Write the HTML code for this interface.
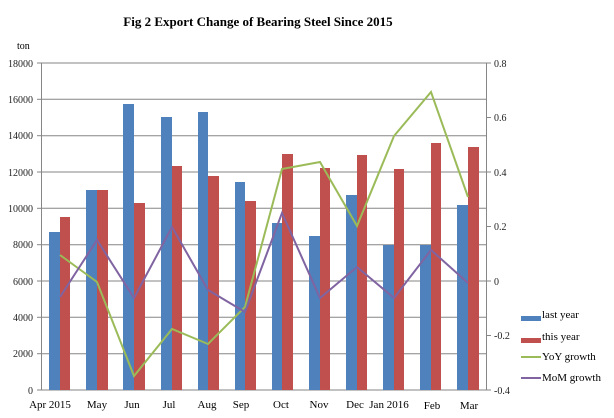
<!DOCTYPE html>
<html><head><style>body{margin:0;background:#fff}svg{display:block}text{font-family:"Liberation Serif",serif}</style></head><body>
<svg width="614" height="418" viewBox="0 0 614 418" xmlns="http://www.w3.org/2000/svg">
<text x="258" y="26" font-size="13" font-weight="bold" text-anchor="middle">Fig 2  Export Change of Bearing Steel Since 2015</text>
<text x="17" y="49" font-size="10" font-family="Liberation Sans,sans-serif">ton</text>
<g stroke="#868686" stroke-width="1">
<line x1="41" y1="63" x2="487" y2="63"/><line x1="41" y1="99.3" x2="487" y2="99.3"/><line x1="41" y1="135.7" x2="487" y2="135.7"/><line x1="41" y1="172" x2="487" y2="172"/><line x1="41" y1="208.3" x2="487" y2="208.3"/><line x1="41" y1="244.7" x2="487" y2="244.7"/><line x1="41" y1="281" x2="487" y2="281"/><line x1="41" y1="317.3" x2="487" y2="317.3"/><line x1="41" y1="353.7" x2="487" y2="353.7"/><line x1="41" y1="390" x2="487" y2="390"/>
<line x1="41.5" y1="63" x2="41.5" y2="390"/><line x1="486.5" y1="63" x2="486.5" y2="390"/>
<line x1="37" y1="63" x2="41" y2="63"/><line x1="37" y1="99.3" x2="41" y2="99.3"/><line x1="37" y1="135.7" x2="41" y2="135.7"/><line x1="37" y1="172" x2="41" y2="172"/><line x1="37" y1="208.3" x2="41" y2="208.3"/><line x1="37" y1="244.7" x2="41" y2="244.7"/><line x1="37" y1="281" x2="41" y2="281"/><line x1="37" y1="317.3" x2="41" y2="317.3"/><line x1="37" y1="353.7" x2="41" y2="353.7"/><line x1="37" y1="390" x2="41" y2="390"/>
<line x1="487" y1="63" x2="491" y2="63"/><line x1="487" y1="117.5" x2="491" y2="117.5"/><line x1="487" y1="172" x2="491" y2="172"/><line x1="487" y1="226.5" x2="491" y2="226.5"/><line x1="487" y1="281" x2="491" y2="281"/><line x1="487" y1="335.5" x2="491" y2="335.5"/><line x1="487" y1="390" x2="491" y2="390"/>
</g>
<g font-size="10" font-family="Liberation Sans,sans-serif" text-anchor="end" fill="#222">
<text x="33" y="67">18000</text><text x="33" y="103">16000</text><text x="33" y="139">14000</text><text x="33" y="176">12000</text><text x="33" y="212">10000</text><text x="33" y="248">8000</text><text x="33" y="285">6000</text><text x="33" y="321">4000</text><text x="33" y="357">2000</text><text x="33" y="394">0</text>
</g>
<g font-size="10" font-family="Liberation Sans,sans-serif" fill="#222">
<text x="494" y="67">0.8</text><text x="494" y="121">0.6</text><text x="494" y="176">0.4</text><text x="494" y="230">0.2</text><text x="494" y="285">0</text><text x="494" y="339">-0.2</text><text x="494" y="394">-0.4</text>
</g>
<g fill="#4f81bd">
<rect x="49" y="232" width="11" height="158"/><rect x="86" y="190" width="11" height="200"/><rect x="123" y="104" width="11" height="286"/><rect x="161" y="117" width="11" height="273"/><rect x="198" y="112" width="10" height="278"/><rect x="235" y="182" width="10" height="208"/><rect x="272" y="223" width="10" height="167"/><rect x="309" y="236" width="11" height="154"/><rect x="346" y="195" width="11" height="195"/><rect x="383" y="245" width="11" height="145"/><rect x="420" y="245" width="11" height="145"/><rect x="457" y="205" width="11" height="185"/>
</g>
<g fill="#c0504d">
<rect x="60" y="217" width="10" height="173"/><rect x="97" y="190" width="11" height="200"/><rect x="134" y="203" width="11" height="187"/><rect x="172" y="166" width="10" height="224"/><rect x="208" y="176" width="11" height="214"/><rect x="245" y="201" width="11" height="189"/><rect x="282" y="154" width="11" height="236"/><rect x="320" y="168" width="10" height="222"/><rect x="357" y="155" width="10" height="235"/><rect x="394" y="169" width="10" height="221"/><rect x="431" y="143" width="10" height="247"/><rect x="468" y="147" width="11" height="243"/>
</g>
<polyline fill="none" stroke="#9bbb59" stroke-width="2" points="60,255 97,282 134,376 172,329 208,344 245,307 282,169 320,162 357,226 394,136 431,92 468,197"/>
<polyline fill="none" stroke="#8064a2" stroke-width="2" points="60,297 97,240 134,298 172,227 208,290 245,312 282,213 320,298 357,267 394,298 431,250 468,283"/>
<g font-size="11" text-anchor="middle">
<text x="50" y="408">Apr 2015</text><text x="97" y="408">May</text><text x="132" y="408">Jun</text><text x="169" y="408">Jul</text><text x="207" y="408">Aug</text><text x="241" y="408">Sep</text><text x="281" y="408">Oct</text><text x="319" y="408">Nov</text><text x="355" y="408">Dec</text><text x="389" y="408">Jan 2016</text><text x="432" y="409">Feb</text><text x="469" y="409">Mar</text>
</g>
<rect x="521" y="316" width="20" height="5" fill="#4f81bd"/>
<rect x="521" y="338" width="20" height="5" fill="#c0504d"/>
<line x1="521" y1="357" x2="541" y2="357" stroke="#9bbb59" stroke-width="2"/>
<line x1="521" y1="378" x2="541" y2="378" stroke="#8064a2" stroke-width="2"/>
<g font-size="11"><text x="542" y="318">last year</text><text x="542" y="340">this year</text><text x="542" y="360">YoY growth</text><text x="542" y="381">MoM growth</text></g>
</svg>
</body></html>
